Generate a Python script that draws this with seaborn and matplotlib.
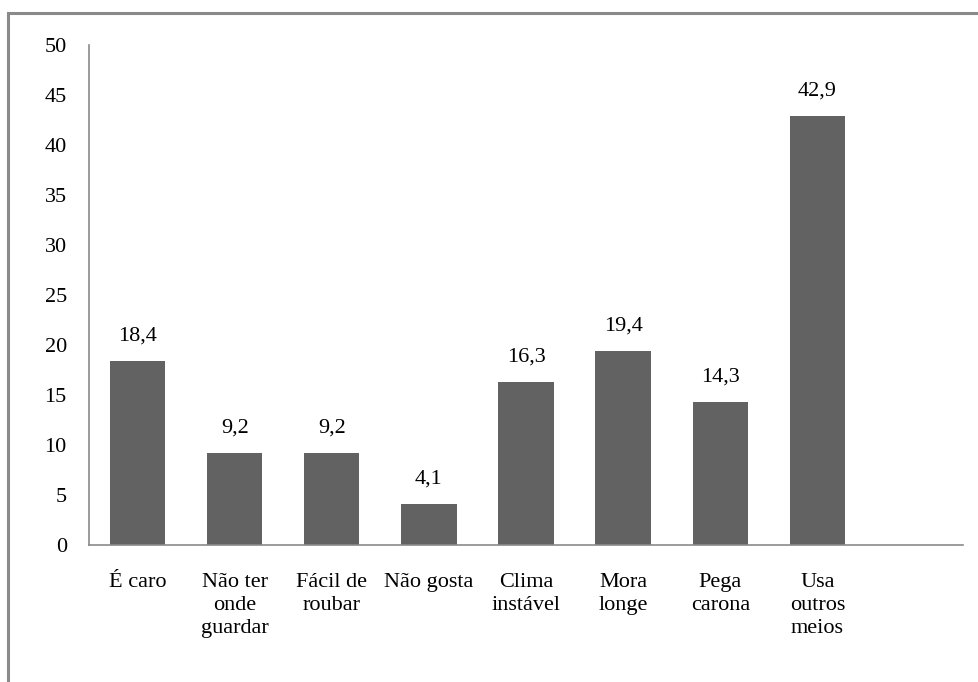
import matplotlib
matplotlib.use("Agg")
import matplotlib.pyplot as plt
import seaborn as sns
import pandas as pd
from matplotlib.patches import Rectangle

categorias = ["É caro", "Não ter\nonde\nguardar", "Fácil de\nroubar", "Não gosta",
              "Clima\ninstável", "Mora\nlonge", "Pega\ncarona", "Usa\noutros\nmeios"]
percentuais = [18.4, 9.2, 9.2, 4.1, 16.3, 19.4, 14.3, 42.9]
yticks = [0, 5, 10, 15, 20, 25, 30, 35, 40, 45, 50]

sns.set_theme(style="white")
plt.rcParams["font.family"] = ["Liberation Serif", "DejaVu Serif"]

df = pd.DataFrame({"motivo": categorias, "pct": percentuais})

fig = plt.figure(figsize=(9.79, 6.82), dpi=100)
ax = fig.add_axes([0.0909, 0.2009, 0.8928, 0.7331])

sns.barplot(data=df, x="motivo", y="pct", color="#626262", saturation=1,
            width=0.57, linewidth=0, ax=ax)

ax.set_xlim(-0.5, 8.5)
ax.set_ylim(0, 50)
ax.set_yticks(yticks)
ax.set_xlabel("")
ax.set_ylabel("")

for side in ["top", "right"]:
    ax.spines[side].set_visible(False)
for side in ["left", "bottom"]:
    ax.spines[side].set_color("#8a8a8a")
    ax.spines[side].set_linewidth(1.2)

ax.tick_params(axis="both", length=0, labelsize=16, colors="black")
ax.tick_params(axis="x", pad=20.5)
ax.tick_params(axis="y", pad=16)
for lbl in ax.get_xticklabels():
    lbl.set_linespacing(1.27)
    lbl.set_verticalalignment("top")

ax.bar_label(ax.containers[0], fmt=lambda v: f"{v:.1f}".replace(".", ","),
             padding=11, fontsize=16, color="black")

# outer frame of the chart area
fig.patches.append(Rectangle((8.5 / 979, -0.1), 1.2, 1 - 13 / 682 + 0.1,
                             transform=fig.transFigure, fill=False,
                             edgecolor="#8a8a8a", linewidth=2.2, zorder=0))

fig.savefig("out.png", dpi=100)
